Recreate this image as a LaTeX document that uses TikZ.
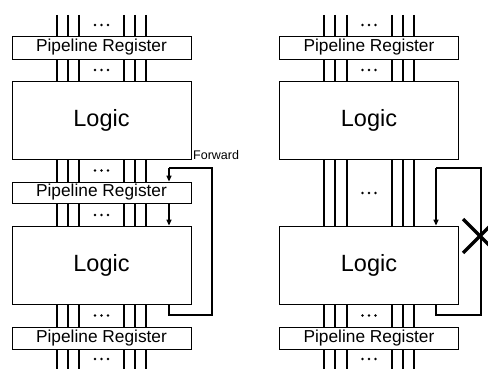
\documentclass[tikz,border=0pt]{standalone}
\usepackage{fontspec}
\setmainfont{Liberation Sans}
\usetikzlibrary{arrows.meta,calc}
\begin{document}
\begin{tikzpicture}[x=1pt,y=-1pt,
  wire/.style={line width=1.6pt},
  regbox/.style={draw,line width=0.8pt,fill=white,minimum width=179pt,inner sep=0pt,font=\fontsize{17.3}{19}\selectfont},
  logicbox/.style={draw,line width=0.8pt,fill=white,minimum width=179pt,minimum height=78pt,inner sep=0pt,font=\fontsize{23.5}{26}\selectfont},
  fb/.style={line width=1.5pt},
  fbarrow/.style={line width=1.3pt,-{Triangle[length=6pt,width=5pt]}},
  dot/.style={fill=black,circle,inner sep=0pt,minimum size=2.6pt}]
\useasboundingbox (0,0) rectangle (488,369);

% ---------- bundles of signal wires (drawn first, boxes cover them) ----------
\foreach \x in {57,68,79,124,135,146,324,335,347,392,403,414}
  \draw[wire] (\x,15) -- (\x,369);

% ---------- left column ----------
\node[regbox,minimum height=23pt] (rl1) at (101.5,47.5) {Pipeline Register};
\node[logicbox] (ll1) at (101.5,120) {Logic};
\node[regbox,minimum height=21pt] (rl2) at (101.5,192.5) {Pipeline Register};
\node[logicbox] (ll2) at (101.5,265) {Logic};
\node[regbox,minimum height=22pt] (rl3) at (101.5,338) {Pipeline Register};

% ---------- right column ----------
\node[regbox,minimum height=23pt] (rr1) at (369,47.5) {Pipeline Register};
\node[logicbox] (lr1) at (369,120) {Logic};
\node[logicbox] (lr2) at (369,265) {Logic};
\node[regbox,minimum height=22pt] (rr3) at (369,338) {Pipeline Register};

% ---------- ellipses between the wire groups ----------
\foreach \y in {25,70,170.5,215,315.5,359}
  \foreach \dx in {-6.5,0,6.5}
    \node[dot] at (101.5+\dx,\y) {};
\foreach \y in {25,70,193,315.5,359}
  \foreach \dx in {-6.5,0,6.5}
    \node[dot] at (369+\dx,\y) {};

% ---------- forwarding path, left ----------
\coordinate (lfa) at (169,315);
\coordinate (lfb) at (212,315);
\coordinate (lfc) at (212,168);
\coordinate (lfd) at (169,168);
\draw[fb] (ll2.south -| lfa) -- (lfa) -- (lfb) -- (lfc) -- (lfd);
\draw[fbarrow] (lfd) -- (rl2.north -| lfd);
\draw[fbarrow] (rl2.south -| lfd) -- (ll2.north -| lfd);
\node[anchor=west,inner sep=0pt,font=\fontsize{12.5}{14}\selectfont] (fwd) at (193,155) {Forward};

% ---------- forwarding path, right (blocked) ----------
\coordinate (rfa) at (436,315);
\coordinate (rfb) at (481,315);
\coordinate (rfc) at (481,168);
\coordinate (rfd) at (436,168);
\draw[fb] (lr2.south -| rfa) -- (rfa) -- (rfb) -- (rfc) -- (rfd);
\draw[fbarrow] (rfd) -- (lr2.north -| rfd);

% cross marking the blocked path
\coordinate (xc) at (480,236);
\draw[line width=3.5pt] ($(xc)+(-17,-17)$) -- ($(xc)+(17,17)$);
\draw[line width=3.5pt] ($(xc)+(-17,17)$) -- ($(xc)+(17,-17)$);
\end{tikzpicture}
\end{document}
